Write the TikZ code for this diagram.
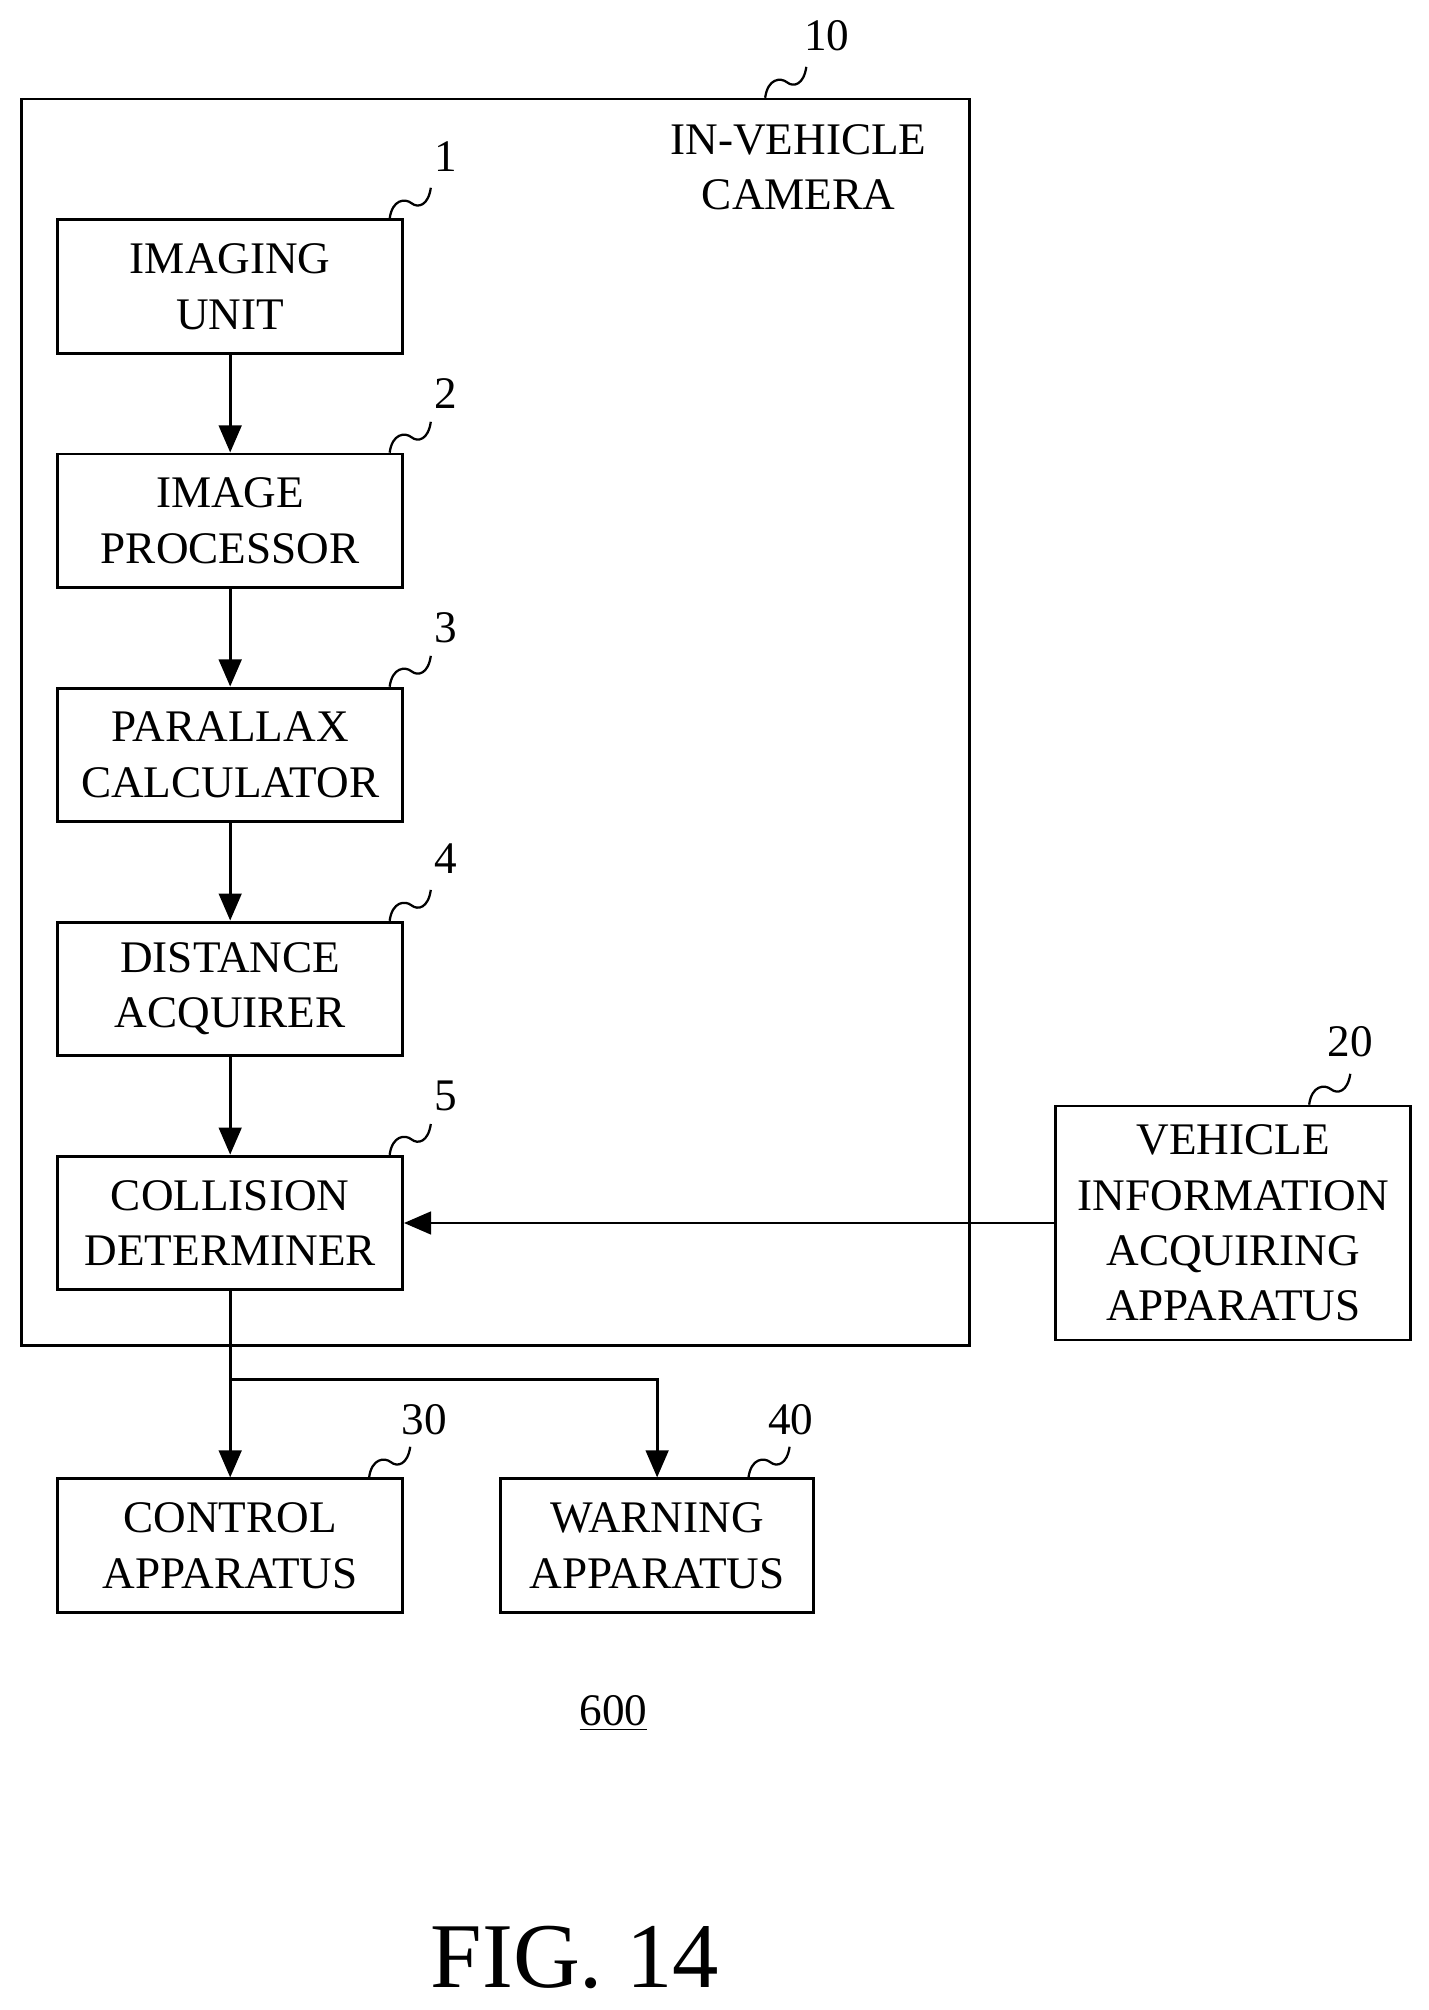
\documentclass[tikz,border=0pt]{standalone}
\usepackage{fontspec}
\setmainfont{Liberation Serif}
\usetikzlibrary{arrows.meta}
\begin{document}
\begin{tikzpicture}[x=0.02cm,y=-0.02cm,
 box/.style={draw,line width=1.3pt,minimum width=5.36cm,minimum height=2.08cm,align=center,font=\fontsize{20}{24.5}\selectfont,inner sep=0pt},
 arr/.style={line width=1.3pt,-{Triangle[length=12pt,width=10pt]}},
 sq/.style={line width=1pt},
 num/.style={font=\fontsize{20}{24}\selectfont}]
\useasboundingbox (0,0) rectangle (1111,1563);
\draw[line width=1.3pt] (17,77) rectangle (754,1046);
\node[align=center,font=\fontsize{20}{24.5}\selectfont] (cam) at (621,130) {IN-VEHICLE\\CAMERA};
\node[box] (b1) at (179,223) {IMAGING\\UNIT};
\node[box] (b2) at (179,405) {IMAGE\\PROCESSOR};
\node[box] (b3) at (179,587) {PARALLAX\\CALCULATOR};
\node[box] (b4) at (179,769) {DISTANCE\\ACQUIRER};
\node[box] (b5) at (179,951) {COLLISION\\DETERMINER};
\node[box,minimum width=5.52cm,minimum height=3.64cm] (v) at (959,951) {VEHICLE\\INFORMATION\\ACQUIRING\\APPARATUS};
\node[box] (c) at (179,1202) {CONTROL\\APPARATUS};
\node[box,minimum width=4.86cm] (w) at (511,1202) {WARNING\\APPARATUS};
\draw[arr] (b1) -- (b2);
\draw[arr] (b2) -- (b3);
\draw[arr] (b3) -- (b4);
\draw[arr] (b4) -- (b5);
\draw[arr] (v) -- (b5);
\draw[arr] (b5) -- (c);
\coordinate (j) at (179,1073);
\draw[arr] (j) -| (w);
\foreach \x/\y/\t in {303/170/1,303/352/2,303/534/3,303/716/4,303/898/5,287/1149/30,582/1149/40,1018/859/20,595/76/10}{
  \draw[sq] (\x,\y) .. controls (\x+2,\y-15) and (\x+12,\y-16) .. (\x+17,\y-12) .. controls (\x+22,\y-8) and (\x+30,\y-10) .. (\x+32,\y-24);
}
\node[num] (n1) at (347,122) {1};
\node[num] (n2) at (347,306) {2};
\node[num] (n3) at (347,488) {3};
\node[num] (n4) at (347,668) {4};
\node[num] (n5) at (347,852) {5};
\node[num] (n30) at (330,1104) {30};
\node[num] (n40) at (615,1104) {40};
\node[num] (n20) at (1050,810) {20};
\node[num] (n10) at (643,28) {10};
\node[num] (n600) at (477,1332) {\underline{600}};
\node[font=\fontsize{41}{48}\selectfont] (fig) at (447,1522) {FIG. 14};
\end{tikzpicture}
\end{document}
